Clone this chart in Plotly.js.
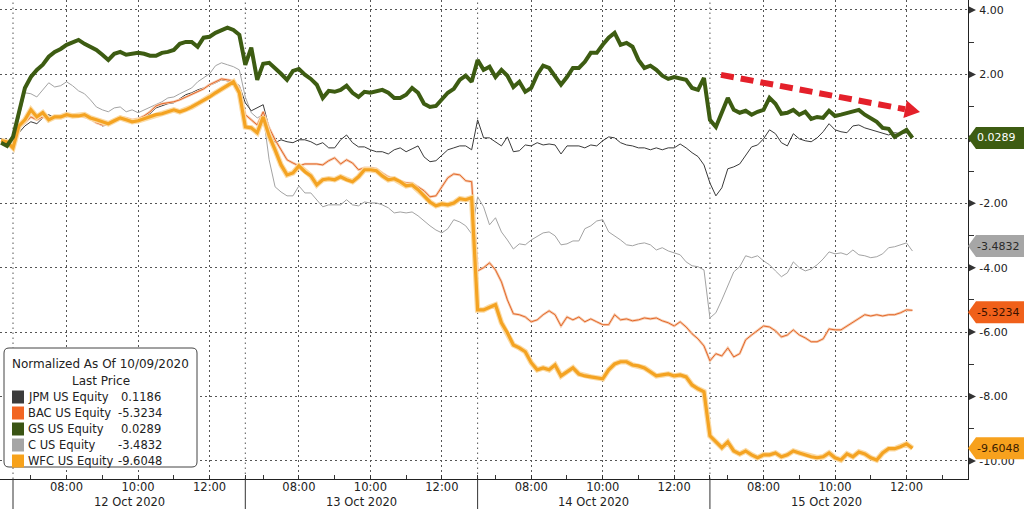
<!DOCTYPE html>
<html><head><meta charset="utf-8">
<script src="https://cdn.plot.ly/plotly-3.0.1.min.js"></script>
<style>html,body{margin:0;padding:0;background:#fff;overflow:hidden}#chart{width:1024px;height:509px}</style>
</head><body><div id="chart"></div>
<script>
// ---------------- data ----------------
const prevDay = '2020-10-09';
const prevTimes = ['12:40', '12:50'];
const sessionDays = ['2020-10-12', '2020-10-13', '2020-10-14', '2020-10-15'];
const dayLabels = ['12 Oct 2020', '13 Oct 2020', '14 Oct 2020', '15 Oct 2020'];
const sessionOpen = '06:30', sessionClose = '13:00', lastPrint = '12:10', stepMinutes = 10;
const xTickLabels = ['08:00', '10:00', '12:00'];
const xMinorLabels = ['07:00', '09:00', '11:00', '13:00'];
const yTicks = [4, 2, 0, -2, -4, -6, -8, -10];
const legendTitle = 'Normalized As Of 10/09/2020';
const legendSub = 'Last Price';
const names = ['JPM US Equity', 'BAC US Equity', 'GS US Equity', 'C US Equity', 'WFC US Equity'];

const jpm = [-0.05, -0.08,
 -0.09, 0.19, 0.40, 0.53, 0.47, 0.65, 0.75, 0.65, 0.71, 0.68, 0.75, 0.68, 0.71, 0.65, 0.53, 0.40, 0.43, 0.53, 0.62, 0.59, 0.56, 0.53, 0.65, 0.78, 0.96, 1.02, 1.09, 1.12, 1.24, 1.37, 1.43, 1.52, 1.58, 1.65, 1.74, 1.83, 1.80, 1.77, 1.65,
 1.12, 0.87, 0.96, 1.06, 0.34, -0.12, -0.03, -0.09, -0.12, -0.03, -0.03, -0.09, -0.19, -0.12, -0.28, -0.28, -0.03, 0.12, -0.12, -0.25, -0.25, -0.34, -0.40, -0.40, -0.47, -0.34, -0.28, -0.40, -0.31, -0.22, -0.56, -0.71, -0.68, -0.50, -0.34, -0.28, -0.22, -0.22, -0.34,
 0.59, 0.03, 0.03, -0.09, -0.22, 0.06, -0.40, -0.37, -0.19, -0.22, -0.12, -0.19, -0.16, -0.19, -0.47, -0.22, -0.22, -0.22, -0.28, -0.19, -0.22, -0.06, 0.06, 0.03, -0.12, -0.19, -0.22, -0.28, -0.28, -0.34, -0.28, -0.34, -0.28, -0.28, -0.16, -0.28, -0.43, -0.55, -0.81,
 -1.37, -1.77, -1.52, -0.93, -0.87, -0.78, -0.50, -0.25, -0.19, 0.00, 0.28, 0.16, -0.12, -0.22, 0.16, 0.00, -0.06, -0.09, 0.03, 0.22, 0.47, 0.28, 0.22, 0.19, 0.40, 0.43, 0.34, 0.28, 0.22, 0.16, 0.12, 0.19, 0.16, 0.19, 0.1186];

const bac = [-0.05, -0.08,
 -0.19, 0.34, 0.50, 0.68, 0.59, 0.68, 0.65, 0.68, 0.71, 0.71, 0.75, 0.71, 0.68, 0.62, 0.50, 0.43, 0.47, 0.59, 0.68, 0.65, 0.59, 0.62, 0.71, 0.84, 1.02, 1.09, 1.12, 1.15, 1.21, 1.30, 1.37, 1.46, 1.55, 1.68, 1.77, 1.86, 1.83, 1.80, 1.58,
 0.75, 0.59, 0.43, 0.84, 0.34, -0.03, -0.34, -0.65, -0.75, -0.84, -0.78, -0.78, -0.78, -0.81, -0.68, -0.59, -0.78, -0.65, -0.75, -0.96, -0.90, -0.90, -0.93, -1.06, -1.18, -1.24, -1.30, -1.37, -1.37, -1.49, -1.61, -1.80, -1.77, -1.49, -1.21, -1.09, -1.12, -1.30, -1.33,
 -4.10, -4.00, -3.85, -4.07, -4.44, -5.00, -5.43, -5.46, -5.53, -5.68, -5.62, -5.46, -5.34, -5.46, -5.81, -5.53, -5.62, -5.53, -5.68, -5.59, -5.68, -5.77, -5.77, -5.46, -5.62, -5.59, -5.65, -5.62, -5.56, -5.59, -5.56, -5.65, -5.71, -5.81, -5.68, -5.84, -6.05, -6.21, -6.43,
 -6.89, -6.67, -6.74, -6.49, -6.77, -6.67, -6.24, -6.09, -5.96, -5.81, -5.84, -5.96, -6.15, -6.09, -5.93, -6.09, -6.18, -6.30, -6.30, -6.21, -5.90, -5.93, -5.93, -5.81, -5.71, -5.59, -5.46, -5.50, -5.46, -5.50, -5.46, -5.46, -5.40, -5.31, -5.3234];

const gs = [-0.12, -0.22,
 0.06, 0.81, 1.58, 1.92, 2.14, 2.30, 2.55, 2.70, 2.79, 2.92, 3.01, 3.07, 2.95, 2.86, 2.76, 2.61, 2.45, 2.64, 2.70, 2.61, 2.64, 2.67, 2.64, 2.58, 2.58, 2.67, 2.70, 2.76, 2.95, 3.01, 3.01, 2.86, 3.14, 3.17, 3.29, 3.38, 3.45, 3.38, 3.23,
 2.30, 2.83, 1.83, 2.33, 2.36, 2.20, 2.02, 1.83, 2.11, 2.17, 1.99, 1.86, 1.68, 1.27, 1.49, 1.46, 1.52, 1.65, 1.43, 1.30, 1.46, 1.43, 1.46, 1.52, 1.43, 1.27, 1.27, 1.37, 1.58, 1.43, 1.09, 0.99, 1.02, 1.21, 1.43, 1.55, 1.83, 1.96, 1.77,
 2.45, 2.14, 2.24, 1.92, 2.14, 1.96, 1.61, 1.77, 1.46, 1.58, 1.99, 2.27, 2.20, 1.96, 1.68, 1.92, 2.20, 2.20, 2.39, 2.67, 2.67, 2.92, 3.14, 3.29, 2.92, 2.98, 2.86, 2.45, 2.20, 2.27, 2.14, 1.96, 1.86, 1.92, 1.89, 1.83, 1.58, 1.52, 1.89,
 0.59, 0.37, 0.84, 1.27, 0.90, 0.81, 0.87, 0.75, 0.84, 0.90, 1.27, 1.09, 0.78, 0.81, 0.90, 0.75, 0.84, 0.62, 0.68, 0.65, 0.87, 0.71, 0.75, 0.81, 0.87, 0.90, 0.75, 0.65, 0.53, 0.34, 0.31, 0.06, 0.16, 0.28, 0.0289];

const c = [-0.03, -0.06,
 -0.03, 0.65, 1.43, 1.40, 1.30, 1.52, 1.74, 1.61, 1.65, 1.77, 1.65, 1.49, 1.40, 1.21, 0.99, 0.90, 0.84, 0.96, 0.99, 0.84, 0.90, 0.81, 0.90, 0.99, 1.06, 1.15, 1.27, 1.30, 1.40, 1.49, 1.58, 1.77, 1.89, 2.02, 2.27, 2.36, 2.30, 2.24, 2.14,
 1.30, 0.81, 0.65, 0.75, -0.65, -1.49, -1.65, -1.77, -1.77, -1.46, -1.68, -1.68, -1.89, -2.11, -2.05, -2.05, -2.05, -1.89, -2.05, -2.08, -1.96, -1.99, -1.99, -2.05, -2.14, -2.30, -2.27, -2.30, -2.27, -2.39, -2.55, -2.70, -2.83, -2.92, -2.79, -2.51, -2.58, -2.70, -2.95,
 -1.80, -2.11, -2.67, -2.45, -2.89, -3.14, -3.42, -3.26, -3.29, -3.14, -3.04, -2.92, -2.89, -3.01, -3.29, -3.26, -3.17, -3.17, -2.79, -2.70, -2.55, -2.51, -2.89, -3.01, -3.14, -3.29, -3.32, -3.26, -3.23, -3.29, -3.45, -3.38, -3.48, -3.54, -3.60, -3.82, -3.94, -3.97, -4.07,
 -5.56, -5.40, -5.00, -4.59, -4.13, -3.97, -3.63, -3.69, -3.63, -3.79, -3.91, -4.10, -4.28, -4.16, -3.82, -4.00, -4.10, -4.04, -3.91, -3.73, -3.51, -3.57, -3.54, -3.60, -3.45, -3.60, -3.63, -3.69, -3.66, -3.57, -3.38, -3.35, -3.29, -3.23, -3.4832];

const wfc = [-0.05, -0.10,
 -0.28, 0.40, 0.59, 0.90, 0.68, 0.81, 0.59, 0.68, 0.68, 0.75, 0.71, 0.71, 0.75, 0.65, 0.59, 0.53, 0.47, 0.56, 0.65, 0.59, 0.53, 0.56, 0.62, 0.68, 0.75, 0.78, 0.84, 0.90, 0.84, 0.90, 0.99, 1.09, 1.21, 1.30, 1.43, 1.55, 1.65, 1.77, 1.43,
 0.37, 0.34, 0.19, 0.68, 0.09, -0.34, -0.81, -1.12, -1.06, -0.84, -1.02, -1.15, -1.43, -1.27, -1.24, -1.27, -1.18, -1.27, -1.33, -1.18, -0.96, -0.96, -0.99, -1.15, -1.27, -1.24, -1.33, -1.46, -1.43, -1.58, -1.77, -1.96, -2.08, -2.02, -2.05, -1.99, -1.86, -1.89, -1.83,
 -5.31, -5.31, -5.22, -5.15, -5.71, -6.02, -6.40, -6.49, -6.61, -6.95, -7.17, -7.11, -7.17, -7.02, -7.36, -7.23, -7.11, -7.30, -7.36, -7.39, -7.42, -7.45, -7.17, -6.99, -6.92, -6.92, -7.02, -7.05, -7.11, -7.23, -7.36, -7.33, -7.30, -7.36, -7.33, -7.39, -7.64, -7.76, -7.85,
 -9.22, -9.41, -9.59, -9.41, -9.69, -9.78, -9.69, -9.81, -9.90, -9.81, -9.81, -9.75, -9.87, -9.81, -9.69, -9.75, -9.81, -9.87, -9.90, -9.87, -9.75, -9.90, -9.97, -9.78, -9.87, -9.72, -9.78, -9.90, -9.97, -9.75, -9.62, -9.62, -9.56, -9.47, -9.6048];

// ---------------- time axis (session-compressed hours) ----------------
const toMin = s => { const [h, m] = s.split(':').map(Number); return h * 60 + m; };
const SESSION_H = (toMin(sessionClose) - toMin(sessionOpen)) / 60;
const sessionX = (dayIdx, hhmm) => dayIdx * SESSION_H + (toMin(hhmm) - toMin(sessionOpen)) / 60;
const xs = [];
prevTimes.forEach(t => xs.push(sessionX(-1, t)));
sessionDays.forEach((d, i) => {
  const end = i === sessionDays.length - 1 ? toMin(lastPrint) : toMin(sessionClose) - stepMinutes;
  for (let m = toMin(sessionOpen); m <= end; m += stepMinutes) {
    const hh = String(Math.floor(m / 60)).padStart(2, '0'), mm = String(m % 60).padStart(2, '0');
    xs.push(sessionX(i, hh + ':' + mm));
  }
});

// ---------------- styles ----------------
const FONT = 'DejaVu Sans, Verdana, sans-serif';
const TXT = '#222222';
const col = { JPM: '#3a3a3a', BAC: '#e4672a', GS: '#3d5c12', C: '#a3a3a3', WFC: '#f4a322' };
const legendSwatch = ['#3b3b3b', '#f26522', '#3a5414', '#a5a5a5', '#f7a21b'];
const series = [jpm, bac, gs, c, wfc];

const PW = 968, PH = 479;
const pxX = v => v / PW, pxY = v => 1 - v / PH;
const YR = [-10.56, 4.31];
const valToPx = v => (YR[1] - v) / (YR[1] - YR[0]) * PH;

const traces = [
  { x: xs, y: c, mode: 'lines', line: { color: col.C, width: 1 } },
  { x: xs, y: jpm, mode: 'lines', line: { color: col.JPM, width: 1 } },
  { x: xs, y: bac, mode: 'lines', line: { color: '#f6cdb0', width: 2.6 } },
  { x: xs, y: bac, mode: 'lines', line: { color: col.BAC, width: 1 } },
  { x: xs, y: wfc, mode: 'lines', line: { color: '#fbdba6', width: 5.5 } },
  { x: xs, y: wfc, mode: 'lines', line: { color: col.WFC, width: 3.2 } },
  { x: xs, y: gs, mode: 'lines', line: { color: col.GS, width: 4 } }
].map(t => Object.assign(t, { type: 'scatter', showlegend: false, hoverinfo: 'skip' }));

const majorX = [], majorText = [], minorX = [];
sessionDays.forEach((d, i) => {
  xTickLabels.forEach(l => { majorX.push(sessionX(i, l)); majorText.push(l); });
  xMinorLabels.forEach(l => minorX.push(sessionX(i, l)));
});

const shapes = [], annotations = [];

// day separators (dotted in plot, solid below axis)
sessionDays.forEach((d, i) => {
  const x = i * SESSION_H;
  shapes.push({ type: 'line', xref: 'x', yref: 'paper', x0: x, x1: x, y0: 0, y1: 1, layer: 'below',
    line: { color: '#555', width: 1, dash: '1.5px,3.5px' } });
  shapes.push({ type: 'line', xref: 'x', yref: 'paper', x0: x, x1: x, y0: 0, y1: -32 / PH,
    line: { color: '#333', width: 1 } });
  annotations.push({ xref: 'x', yref: 'paper', x: x + SESSION_H / 2, y: pxY(502), text: dayLabels[i],
    showarrow: false, xanchor: 'center', yanchor: 'middle', font: { family: FONT, size: 11.5, color: TXT } });
});

// last-value tags
const tags = [
  { v: gs[gs.length - 1], bg: '#3d5c12', fg: '#ffffff', shift: 0 },
  { v: c[c.length - 1], bg: '#a6a6a6', fg: '#2a2a2a', shift: 5 },
  { v: bac[bac.length - 1], bg: '#f0601a', fg: '#3a1200', shift: -2 },
  { v: wfc[wfc.length - 1], bg: '#f7a11d', fg: '#3a2000', shift: 0 }
];
// tick labels fully covered by a tag are not visible in the reference
const hiddenTick = v => tags.some(t => Math.abs(valToPx(t.v) - t.shift - valToPx(v)) < 6);

// y-axis tick triangles
yTicks.forEach(v => shapes.push({ type: 'path', xref: 'paper', yref: 'y', xsizemode: 'pixel', ysizemode: 'pixel',
  xanchor: 1, yanchor: v, path: 'M 1 3.5 L 8 0 L 1 -3.5 Z', fillcolor: '#333', line: { width: 0 }, layer: 'above' }));

tags.forEach(t => {
  const s = t.shift, h = 11;
  shapes.push({ type: 'path', xref: 'paper', yref: 'y', xsizemode: 'pixel', ysizemode: 'pixel',
    xanchor: 1, yanchor: t.v, layer: 'above',
    path: `M 0 ${s} L 8 ${s + h} L 56 ${s + h} L 56 ${s - h} L 8 ${s - h} Z`,
    fillcolor: t.bg, line: { width: 0 } });
  annotations.push({ xref: 'paper', yref: 'y', x: 1, y: t.v, xanchor: 'left', yanchor: 'middle',
    xshift: 7, yshift: s, text: t.v.toFixed(4), showarrow: false,
    font: { family: FONT, size: 11, color: t.fg } });
});

// legend box
(function () {
  const x0 = 4, x1 = 197, y0 = 348, y1 = 467, r = 5;
  const P = (a, b) => `${pxX(a)},${pxY(b)}`;
  shapes.push({ type: 'path', xref: 'paper', yref: 'paper', layer: 'above',
    path: `M ${P(x0 + r, y0)} L ${P(x1 - r, y0)} Q ${P(x1, y0)} ${P(x1, y0 + r)} L ${P(x1, y1 - r)} Q ${P(x1, y1)} ${P(x1 - r, y1)} L ${P(x0 + r, y1)} Q ${P(x0, y1)} ${P(x0, y1 - r)} L ${P(x0, y0 + r)} Q ${P(x0, y0)} ${P(x0 + r, y0)} Z`,
    fillcolor: '#ffffff', line: { color: '#444', width: 1 } });
  const lf = { family: FONT, size: 11.5, color: TXT };
  const tf = { family: FONT, size: 12, color: TXT };
  annotations.push({ xref: 'paper', yref: 'paper', x: pxX(100.5), y: pxY(364), text: legendTitle, showarrow: false,
    xanchor: 'center', yanchor: 'middle', font: tf });
  annotations.push({ xref: 'paper', yref: 'paper', x: pxX(100.5), y: pxY(381), text: legendSub, showarrow: false,
    xanchor: 'center', yanchor: 'middle', font: tf });
  names.forEach((n, i) => {
    const yy = 397 + i * 16;
    shapes.push({ type: 'rect', xref: 'paper', yref: 'paper', layer: 'above',
      x0: pxX(12), x1: pxX(24), y0: pxY(yy - 6.5), y1: pxY(yy + 6.5), fillcolor: legendSwatch[i], line: { width: 0 } });
    annotations.push({ xref: 'paper', yref: 'paper', x: pxX(26), y: pxY(yy), text: n, showarrow: false,
      xanchor: 'left', yanchor: 'middle', font: lf });
    const last = series[i][series[i].length - 1];
    annotations.push({ xref: 'paper', yref: 'paper', x: pxX(last < 0 ? 116 : 119), y: pxY(yy), text: last.toFixed(4), showarrow: false,
      xanchor: 'left', yanchor: 'middle', font: lf });
  });
})();

// red dashed trend arrow
const xp = p => (p - 13) / 35.74, yp = p => (139 - p) / 32.21;
shapes.push({ type: 'line', xref: 'x', yref: 'y', x0: xp(721), y0: yp(75), x1: xp(905), y1: yp(109.4),
  line: { color: '#e4202a', width: 6, dash: '13px,7px' }, layer: 'above' });
shapes.push({ type: 'path', xref: 'x', yref: 'y', layer: 'above', fillcolor: '#e4202a', line: { width: 0 },
  path: `M ${xp(903.4)},${yp(118.2)} L ${xp(920)},${yp(112.2)} L ${xp(906.8)},${yp(100.6)} Z` });

const layout = {
  width: 1024, height: 509,
  margin: { l: 0, r: 56, t: 0, b: 30, pad: 0 },
  paper_bgcolor: '#ffffff', plot_bgcolor: '#ffffff',
  showlegend: false, hovermode: false,
  font: { family: FONT, size: 11, color: TXT },
  xaxis: {
    range: [-13 / 35.74, (968 - 13) / 35.74], fixedrange: true,
    tickmode: 'array', tickvals: majorX, ticktext: majorText,
    ticks: 'inside', ticklen: 4, tickwidth: 1, tickcolor: '#333',
    ticklabelstandoff: -3,
    tickfont: { family: FONT, size: 11.5, color: TXT },
    showline: true, linecolor: '#222', linewidth: 1,
    showgrid: true, gridcolor: '#555', gridwidth: 1, griddash: '1.5px,3.5px',
    zeroline: false,
    minor: { tickmode: 'array', tickvals: minorX, ticks: 'inside', ticklen: 4, tickcolor: '#333', tickwidth: 1, showgrid: false }
  },
  yaxis: {
    side: 'right', range: YR, fixedrange: true,
    tickmode: 'array', tickvals: yTicks, ticktext: yTicks.map(v => hiddenTick(v) ? '' : v.toFixed(2)),
    ticks: 'outside', ticklen: 8, tickcolor: 'rgba(0,0,0,0)',
    tickfont: { family: FONT, size: 11, color: TXT },
    showline: true, linecolor: '#222', linewidth: 1,
    showgrid: true, gridcolor: '#555', gridwidth: 1, griddash: '1.5px,3.5px',
    zeroline: false,
    minor: { tickmode: 'linear', tick0: 1, dtick: 2, ticks: 'outside', ticklen: 5, tickcolor: '#333', tickwidth: 1, showgrid: false }
  },
  shapes, annotations
};

Plotly.newPlot('chart', traces, layout, { staticPlot: true, displayModeBar: false });
</script></body></html>
